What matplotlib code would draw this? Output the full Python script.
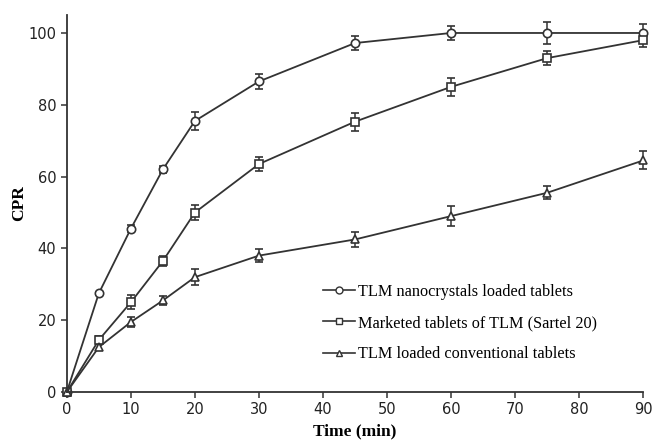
import matplotlib.pyplot as plt
from matplotlib.lines import Line2D

time_min = [0, 5, 10, 15, 20, 30, 45, 60, 75, 90]

nano = [0, 27.5, 45.5, 62.0, 75.5, 86.5, 97.2, 100.0, 100.0, 100.0]
nano_err = [0, 0.5, 1.0, 1.0, 2.5, 2.2, 2.0, 2.0, 3.0, 2.5]

marketed = [0, 14.5, 25.0, 36.5, 50.0, 63.5, 75.3, 85.0, 93.0, 98.0]
marketed_err = [0, 1.0, 2.0, 1.5, 2.0, 2.0, 2.5, 2.5, 2.0, 2.0]

conventional = [0, 12.5, 19.5, 25.5, 32.0, 38.0, 42.5, 49.0, 55.5, 64.5]
conventional_err = [0, 0.8, 1.5, 1.2, 2.2, 1.8, 2.0, 2.7, 1.8, 2.5]

labels = ['TLM nanocrystals loaded tablets',
          'Marketed tablets of TLM (Sartel 20)',
          'TLM loaded conventional tablets']

fig = plt.figure(figsize=(6.55, 4.42), dpi=100)
ax = fig.add_axes([0.102, 0.113, 0.880, 0.853])

col = '#333333'
series = [(nano, nano_err, 'o', 6), (marketed, marketed_err, 's', 5.5),
          (conventional, conventional_err, '^', 6)]
handles = []
for (vals, err, mk, ms), lab in zip(series, labels):
    ax.errorbar(time_min, vals, yerr=err, color=col, lw=1.3, marker=mk,
                markersize=ms, markerfacecolor='white', markeredgecolor=col,
                markeredgewidth=1.2, ecolor=col, elinewidth=1.1, capsize=3,
                capthick=1.1)
    handles.append(Line2D([], [], color=col, lw=1.2, marker=mk, markersize=5,
                          markerfacecolor='white', markeredgecolor=col,
                          markeredgewidth=1.0, label=lab))

ax.set_xlim(0, 90)
ax.set_ylim(0, 105)
ax.set_xticks(range(0, 91, 10))
ax.set_yticks(range(0, 101, 20))
for s in ['top', 'right']:
    ax.spines[s].set_visible(False)
for s in ['left', 'bottom']:
    ax.spines[s].set_color(col)
    ax.spines[s].set_linewidth(1.3)
for c in ax.collections + ax.lines:
    c.set_clip_on(False)
ax.tick_params(direction='out', length=4, width=1.1, color=col,
               labelsize=10.5, labelcolor='#222222')

ax.set_xlabel('Time (min)', family='Liberation Serif', fontweight='bold',
              fontsize=12.5, labelpad=4)
ax.set_ylabel('CPR', family='Liberation Serif', fontweight='bold',
              fontsize=12.5, labelpad=1)

ax.legend(handles=handles, loc='center left', bbox_to_anchor=(0.43, 0.183),
          frameon=False, borderpad=0, handlelength=2.0, handletextpad=0.15,
          labelspacing=0.95, prop={'family': 'Liberation Serif', 'size': 11.7})

fig.savefig('out.png', dpi=100)
